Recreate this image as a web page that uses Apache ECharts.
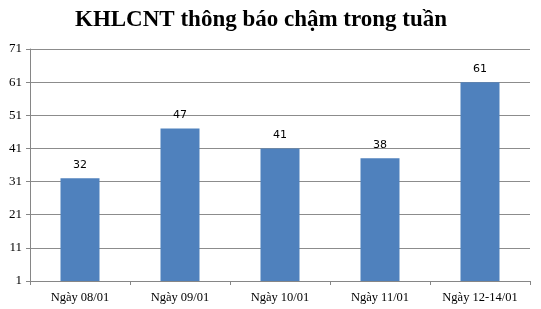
<!DOCTYPE html>
<html><head><meta charset="utf-8">
<script src="https://cdn.jsdelivr.net/npm/echarts@6/dist/echarts.min.js"></script>
<style>html,body{margin:0;padding:0;background:#fff}#c{width:541px;height:309px}</style>
</head><body><div id="c"></div>
<script>
const titleText = 'KHLCNT thông báo chậm trong tuần';
const categories = ['Ngày 08/01','Ngày 09/01','Ngày 10/01','Ngày 11/01','Ngày 12-14/01'];
const values = [32, 47, 41, 38, 61];
const yMin = 1, yMax = 71, yStep = 10;

const chart = echarts.init(document.getElementById('c'), null, {renderer:'canvas'});
chart.setOption({
  animation:false,
  backgroundColor:'#fff',
  title:{text:titleText,left:70,top:4,textStyle:{fontFamily:'Liberation Serif',fontWeight:'bold',fontSize:23,color:'#000'}},
  grid:{left:30,right:11,top:49,bottom:28,containLabel:false},
  xAxis:{type:'category',data:categories,
    axisLine:{lineStyle:{color:'#868686'}},
    axisTick:{show:true,alignWithLabel:false,length:4,lineStyle:{color:'#868686'}},
    axisLabel:{fontFamily:'Liberation Serif',fontSize:12.5,color:'#000',margin:10}},
  yAxis:{type:'value',min:yMin,max:yMax,interval:yStep,
    axisLine:{show:true,lineStyle:{color:'#868686'}},
    axisTick:{show:true,length:4,lineStyle:{color:'#868686'}},
    splitLine:{lineStyle:{color:'#8c8c8c'}},
    axisLabel:{fontFamily:'Liberation Serif',fontSize:13,color:'#000',margin:8}},
  series:[{type:'bar',data:values,barWidth:'39%',
    itemStyle:{color:'#4f81bd'},
    label:{show:true,position:'top',distance:8,fontFamily:'DejaVu Sans',fontSize:11,color:'#000'}}]
});
</script></body></html>
